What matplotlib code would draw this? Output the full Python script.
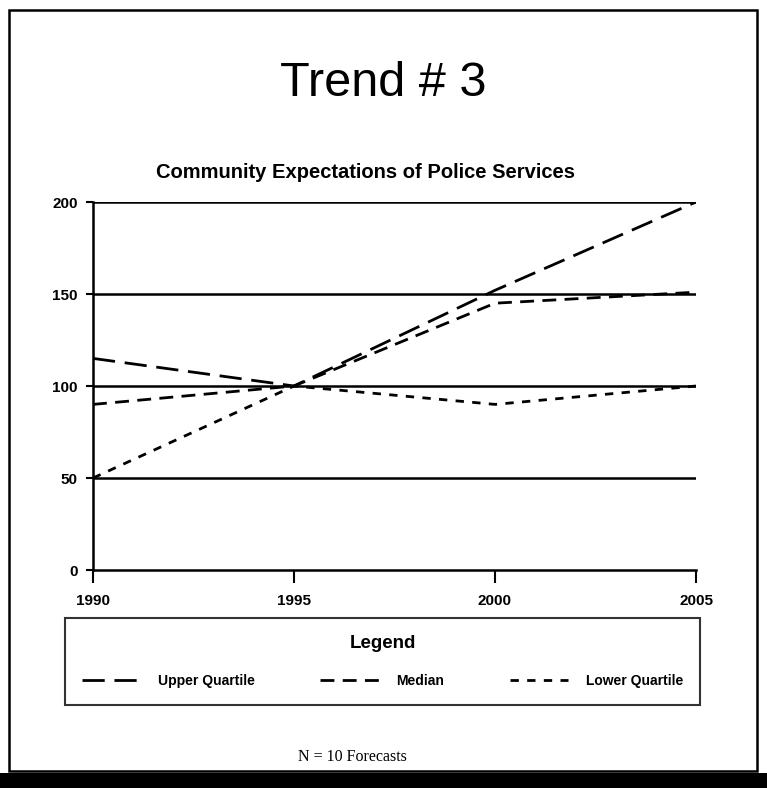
import matplotlib
matplotlib.use("Agg")
import matplotlib.pyplot as plt
from matplotlib.patches import Rectangle

years = [1990, 1995, 2000, 2005]
upper_quartile = [115, 100, 152, 200]
median = [90, 100, 145, 151]
lower_quartile = [50, 100, 90, 100]
y_ticks = [0, 50, 100, 150, 200]
grid_levels = [50, 100, 150, 200]

NARROW = ['Liberation Sans Narrow', 'Liberation Sans', 'DejaVu Sans']
W, H = 767, 788

fig = plt.figure(figsize=(W / 100, H / 100), dpi=100)
fig.patch.set_facecolor('white')

# outer frame and scanned dark strip at the bottom
fig.add_artist(Rectangle((9 / W, 1 - 771 / H), 748 / W, 761 / H, transform=fig.transFigure,
                         fill=False, edgecolor='black', linewidth=1.8))
fig.add_artist(Rectangle((0, 0), 1, 15 / H, transform=fig.transFigure,
                         facecolor='black', edgecolor='none'))

fig.text(383 / W, 1 - 84 / H, 'Trend # 3', ha='center', va='center',
         fontsize=35, family=NARROW)
fig.text(366 / W, 1 - 172 / H, 'Community Expectations of Police Services', ha='center',
         va='center', fontsize=14.5, fontweight='bold', family=NARROW)
fig.text(352 / W, 1 - 757 / H, 'N = 10 Forecasts', ha='center', va='center',
         fontsize=11.5, family=['Liberation Serif', 'DejaVu Serif'])

ax = fig.add_axes([93 / W, 1 - 570 / H, 603 / W, 368 / H])
for lvl in grid_levels:
    ax.axhline(lvl, color='black', linewidth=1.8, zorder=1)

ax.plot(years, upper_quartile, color='black', linewidth=2.0, dashes=(8, 3.5), label='Upper Quartile', zorder=3)
ax.plot(years, median, color='black', linewidth=2.0, dashes=(5, 3), label='Median', zorder=3)
ax.plot(years, lower_quartile, color='black', linewidth=2.0, dashes=(3, 3), label='Lower Quartile', zorder=3)

ax.set_xlim(1990, 2005)
ax.set_ylim(0, 200)
ax.set_xticks(years)
ax.set_yticks(y_ticks)
for side in ['top', 'right']:
    ax.spines[side].set_visible(False)
for side in ['left', 'bottom']:
    ax.spines[side].set_linewidth(1.8)
ax.tick_params(axis='x', direction='out', length=9, width=1.5, pad=8, labelsize=11)
ax.tick_params(axis='y', direction='out', length=5, width=1.5, pad=6, labelsize=11)
for lab in ax.get_xticklabels() + ax.get_yticklabels():
    lab.set_family(NARROW)
    lab.set_fontweight('bold')

leg = fig.legend(loc='lower left', bbox_to_anchor=(65 / W, 1 - 705 / H, 635 / W, 85 / H),
                 mode='expand', ncol=3, title='Legend', frameon=True, fancybox=False,
                 borderaxespad=0, handlelength=4.2, handletextpad=1.3, borderpad=1.2,
                 prop={'family': NARROW, 'weight': 'bold', 'size': 10},
                 title_fontproperties={'family': NARROW, 'size': 13.5, 'weight': 'bold'})
leg.get_frame().set_edgecolor('black')
leg.get_frame().set_linewidth(1.5)
leg._legend_box.sep = 16

fig.savefig('out.png', dpi=100, facecolor='white')
